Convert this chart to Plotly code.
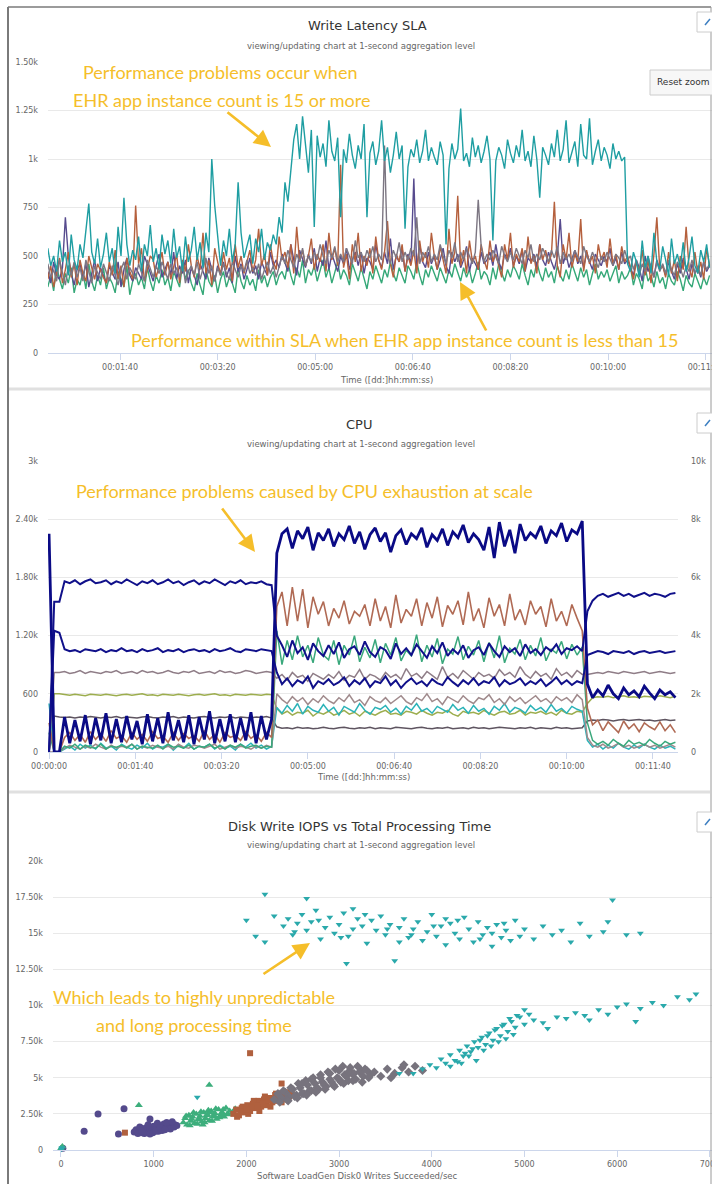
import plotly.graph_objects as go

W, H = 712, 1184
def px(x): return x / W
def py(y): return 1 - y / H

# ---------------- Panel 1: Write Latency SLA ----------------
lat_t = list(range(26, 705, 3))  # seconds, 227 samples
lat_teal = [540, 450, 500, 420, 580, 470, 520, 400, 610, 480,
            430, 560, 490, 640, 770, 520, 460, 590, 440, 510,
            620, 470, 540, 410, 650, 500, 800, 560, 450, 530,
            480, 600, 420, 560, 500, 660, 470, 540, 430, 610,
            510, 580, 460, 640, 490, 550, 420, 600, 470, 530,
            650, 480, 570, 440, 620, 520, 1000, 760, 600, 450,
            580, 500, 640, 470, 560, 880, 620, 490, 550, 610,
            460, 590, 520, 640, 480, 570, 530, 610, 560,
            700, 620, 880, 780,
            950, 1100, 1180, 1000, 1220, 1060, 930, 1150, 650, 1120,
            1010, 1080, 960, 1200, 1040, 990, 1110, 700, 1050, 980,
            1130, 1020, 950, 1070, 1000, 1180, 700, 1030, 1090, 970,
            1040, 1200, 990, 1060, 930, 1020, 1140, 1000, 1070, 640,
            960, 1050, 1010, 1100, 980, 1040, 1150, 990, 1060, 1010,
            970, 1090, 1020, 560, 950, 1080, 1000, 1050, 1260, 990,
            1030, 960, 1110, 1010, 1070, 980, 1040, 1120, 1000, 580,
            990, 1060, 1020, 950, 1100, 1030, 980, 1070, 1010, 1150,
            990, 1040, 960, 1120, 1000, 800, 1060, 1020, 970, 1080,
            1010, 1150, 990, 1050, 1200, 980, 1030, 1090, 960, 1180,
            1020, 1000, 1210, 970, 1040, 1100, 990, 1060, 1020, 950,
            1080, 1000, 1040, 990, 1010,
            460, 420, 520, 470, 390, 580, 440, 500, 410, 620,
            470, 430, 550, 480, 400, 590, 460, 510, 440, 570,
            420, 490, 600, 450, 410, 530, 470, 560, 440]
lat_orange = [380, 450, 340, 420, 490, 360, 430, 520, 390, 460,
              350, 480, 410, 370, 500, 440, 380, 460, 420, 390,
              360, 470, 400, 530, 380, 450, 340, 490, 420, 380,
              760, 460, 540, 370, 430, 500, 480, 390, 450, 520,
              400, 470, 380, 440, 510, 360, 480, 420, 560, 450,
              390, 500, 430, 620, 410, 480, 350, 540, 460, 400,
              520, 430, 490, 370, 560, 440, 500, 410, 470, 530,
              420, 480, 640, 450, 510, 400, 560, 470, 430, 600,
              480, 520, 440, 560, 410, 650, 470, 530, 450, 500,
              590, 430, 510, 470, 560, 420, 620, 480, 540, 450,
              970, 440, 510, 380, 560, 470, 620, 420, 500, 450,
              540, 410, 600, 480, 430, 520, 680, 460, 390, 510,
              470, 560, 420, 500, 450, 530, 410, 580, 470, 520,
              440, 620, 500, 430, 550, 480, 410, 640, 460, 520,
              810, 450, 530, 410, 580, 470, 500, 430, 560, 480,
              430, 580, 470, 510, 450, 390, 560, 480, 620, 440,
              510, 470, 540, 420, 600, 460, 500, 410, 560, 480,
              530, 460, 510, 780, 450, 390, 560, 480, 620, 440,
              510, 470, 690, 420, 530, 460, 500, 410, 560, 480,
              520, 440, 590, 460, 510, 430, 550, 470, 500, 440,
              380, 470, 420, 530, 400, 480, 360, 510, 700, 430,
              450, 390, 520, 410, 480, 370, 500, 430, 650, 440,
              390, 520, 410, 470, 380, 540, 450]
lat_purple = [420, 360, 470, 400, 380, 440, 700, 500, 410, 350,
              430, 460, 390, 460, 340, 420, 480, 370, 440, 400,
              360, 450, 410, 380, 470, 340, 430, 490, 400, 370,
              440, 410, 380, 500, 460, 420, 370, 450, 510, 390,
              430, 470, 400, 520, 380, 450, 410, 480, 360, 440,
              400, 350, 460, 420, 380, 490, 430, 370, 450, 410,
              470, 390, 440, 360, 500, 420, 460, 380, 430, 490,
              410, 450, 380, 470, 430, 400, 520, 450, 480, 440,
              510, 460, 420, 560, 470, 400, 530, 480, 440, 510,
              460, 540, 420, 490, 450, 580, 430, 510, 470, 420,
              500, 460, 540, 430, 480, 520, 450, 520, 410, 490,
              470, 430, 560, 480, 440, 520, 460, 590, 430, 500,
              470, 540, 420, 510, 460, 900, 430, 560, 470, 440,
              520, 460, 500, 430, 480, 540, 450, 410, 520, 470,
              510, 440, 480, 550, 420, 490, 460, 430, 520, 460,
              480, 520, 450, 560, 470, 430, 510, 480, 540, 450,
              500, 460, 530, 420, 490, 470, 510, 440, 560, 480,
              450, 520, 470, 430, 500, 690, 460, 510, 440, 480,
              530, 460, 500, 440, 520, 470, 430, 510, 480, 450,
              500, 470, 540, 450, 490, 430, 520, 460, 480, 440,
              400, 480, 440, 370, 500, 420, 460, 390, 480, 430,
              450, 400, 470, 420, 380, 460, 410, 490, 430, 380,
              460, 410, 440, 390, 470, 420, 450]
lat_green = [340, 400, 320, 450, 380, 330, 410, 360, 440, 310,
             380, 350, 420, 330, 460, 370, 320, 400, 350, 440,
             330, 390, 360, 310, 420, 380, 340, 450, 300, 370,
             410, 350, 390, 330, 440, 370, 320, 400, 360, 430,
             350, 390, 320, 420, 380, 340, 460, 380, 430, 360,
             320, 410, 350, 300, 430, 370, 340, 400, 310, 380,
             420, 340, 390, 360, 310, 440, 370, 330, 400, 350,
             380, 320, 430, 360, 400, 340, 390, 420, 350, 400,
             420, 380, 470, 400, 350, 440, 390, 480, 360, 430,
             400, 450, 370, 420, 480, 390, 440, 360, 410, 470,
             380, 430, 400, 350, 460, 410, 370, 440, 390, 330,
             420, 380, 450, 400, 360, 430, 390, 470, 410, 370,
             440, 400, 360, 450, 420, 380, 470, 400, 350, 430,
             390, 450, 410, 370, 440, 400, 360, 430, 390, 460,
             410, 370, 440, 390, 430, 360, 410, 470, 380, 420,
             400, 350, 440, 380, 460, 410, 370, 430, 390, 450,
             420, 380, 460, 400, 350, 430, 390, 470, 410, 370,
             440, 390, 420, 360, 450, 400, 370, 430, 380, 460,
             410, 370, 440, 390, 430, 350, 410, 460, 380, 420,
             390, 430, 370, 410, 450, 360, 420, 380, 400, 440,
             350, 410, 380, 330, 440, 370, 400, 340, 420, 360,
             390, 330, 410, 370, 350, 420, 380, 320, 400, 360,
             340, 410, 370, 330, 390, 350, 400]
lat_gray = [460, 390, 430, 370, 480, 410, 350, 450, 400, 470,
            390, 440, 370, 480, 420, 360, 450, 410, 380, 460,
            420, 370, 450, 400, 350, 430, 470, 380, 440, 410,
            380, 460, 420, 370, 480, 430, 390, 450, 410, 470,
            430, 380, 460, 410, 440, 390, 470, 360, 420, 450,
            400, 470, 380, 430, 490, 410, 450, 370, 440, 400,
            460, 410, 380, 470, 430, 390, 450, 420, 480, 410,
            440, 400, 460, 380, 430, 470, 410, 450, 390, 440,
            500, 460, 530, 480, 440, 510, 470, 540, 450, 500,
            470, 520, 480, 560, 500, 460, 530, 490, 550, 470,
            510, 470, 540, 500, 460, 580, 490, 520, 470, 530,
            490, 550, 470, 510, 480, 1070, 500, 460, 530, 490,
            570, 470, 520, 480, 540, 500, 700, 460, 520, 490,
            550, 470, 510, 480, 560, 500, 460, 530, 490, 570,
            470, 520, 480, 540, 500, 460, 520, 790, 550, 470,
            510, 480, 530, 490, 460, 550, 500, 470, 520, 480,
            540, 500, 460, 530, 490, 560, 470, 510, 480, 540,
            500, 470, 530, 490, 550, 460, 520, 480, 510, 470,
            530, 490, 460, 550, 500, 470, 520, 480, 440, 500,
            470, 520, 480, 450, 510, 490, 460, 530, 480, 500,
            430, 480, 400, 460, 420, 500, 440, 390, 470, 420,
            460, 410, 480, 430, 400, 470, 440, 390, 450, 420,
            480, 410, 450, 400, 470, 430, 460]
lat_ytick_vals = [0, 250, 500, 750, 1000, 1250, 1500]
lat_ytick_text = ["0", "250", "500", "750", "1k", "1.25k", "1.50k"]

time_tick_vals = [0, 100, 200, 300, 400, 500, 600, 700]
time_tick_text = ["00:00:00", "00:01:40", "00:03:20", "00:05:00",
                  "00:06:40", "00:08:20", "00:10:00", "00:11:40"]

# ---------------- Panel 2: CPU ----------------
cpu_t = list(range(0, 727, 6))  # seconds
cpu_navy1 = [2250, 0, 0, 360, 90, 330, 110, 380, 80, 350,
             120, 400, 90, 340, 100, 370, 130, 320, 80, 390,
             110, 350, 90, 410, 120, 330, 100, 380, 80, 360,
             130, 420, 90, 340, 110, 390, 100, 350, 120, 410,
             90, 370, 130, 340,
             2050, 2250, 2300, 2100, 2280, 2200, 2320, 2080, 2260, 2180,
             2300, 2120, 2250, 2190, 2330, 2150, 2270, 2090, 2240, 2310,
             2170, 2260, 2060, 2230, 2290, 2140, 2250, 2200, 2310, 2110,
             2240, 2180, 2300, 2130, 2270, 2210, 2340, 2160, 2250, 2190,
             2080, 2320, 2000, 2370, 2120, 2290, 2050, 2350, 2180, 2260,
             2210, 2330, 2150, 2280, 2230, 2360, 2170, 2290, 2250, 2380,
             700, 560, 640, 580, 690, 600, 550, 660, 590, 630,
             570, 680, 610, 550, 640, 590, 620, 560]
cpu_navy2 = [0, 1550, 1550, 1760, 1740, 1770, 1730, 1760, 1780, 1740,
             1750, 1770, 1730, 1760, 1740, 1780, 1750, 1720, 1760, 1740,
             1770, 1730, 1750, 1780, 1740, 1760, 1720, 1750, 1770, 1730,
             1760, 1740, 1780, 1750, 1720, 1760, 1740, 1770, 1730, 1750,
             1740, 1760, 1730, 1720,
             1200, 1100, 980, 1150, 1020, 1080, 950, 1120, 1040, 990,
             1100, 1010, 1130, 970, 1060, 1090, 1000, 1140, 1030, 980,
             1080, 1050, 960, 1120, 1010, 1070, 1000, 1110, 1040, 970,
             1090, 1020, 1130, 990, 1060, 1010, 1100, 970, 1050, 1080,
             1000, 1120, 1040, 980, 1090, 1030, 1070, 990, 1110, 1020,
             1060, 1000, 1080, 1040, 1110, 1010, 1070, 1050, 1090, 1040,
             1450, 1560, 1610, 1630, 1600, 1620, 1640, 1610, 1630, 1600,
             1620, 1640, 1610, 1630, 1620, 1600, 1630, 1640]
cpu_navy3 = [0, 1250, 1230, 1060, 1040, 1050, 1030, 1060, 1050, 1040,
             1060, 1030, 1050, 1040, 1070, 1040, 1050, 1030, 1060, 1040,
             1050, 1070, 1030, 1050, 1040, 1060, 1030, 1050, 1060, 1040,
             1050, 1030, 1060, 1040, 1050, 1070, 1040, 1030, 1060, 1050,
             1040, 1060, 1050, 1040,
             820, 700, 760, 680, 740, 710, 780, 660, 730, 700,
             750, 690, 720, 770, 680, 740, 700, 760, 670, 730,
             710, 780, 690, 740, 660, 720, 760, 700, 730, 680,
             750, 710, 690, 770, 720, 680, 740, 700, 760, 690,
             730, 710, 770, 680, 740, 700, 720, 760, 690, 730,
             700, 750, 680, 720, 770, 700, 740, 690, 730, 710,
             1000, 1020, 1040, 1030, 1010, 1040, 1030, 1020, 1040, 1010,
             1030, 1040, 1020, 1030, 1040, 1020, 1030, 1040]
cpu_brown = [300, 0, 0, 150, 200, 120, 180, 100, 210, 130,
             190, 110, 220, 140, 170, 100, 200, 130, 180, 110,
             210, 140, 160, 100, 200, 120, 190, 140, 170, 110,
             220, 130, 180, 100, 200, 150, 170, 120, 210, 140,
             180, 110, 200, 150,
             1500, 1650, 1300, 1700, 1350, 1680, 1280, 1600, 1420, 1550,
             1300, 1480, 1380, 1560, 1320, 1450, 1400, 1520, 1300, 1580,
             1350, 1500, 1280, 1620, 1330, 1470, 1400, 1580, 1300, 1540,
             1380, 1600, 1290, 1510, 1420, 1560, 1310, 1650, 1350, 1480,
             1280, 1590, 1400, 1520, 1300, 1630, 1360, 1470, 1310, 1560,
             1420, 1500, 1290, 1580, 1350, 1450, 1300, 1520, 1380, 1250,
             450, 280, 330, 220, 310, 250, 200, 320, 240, 290,
             210, 300, 260, 230, 310, 220, 280, 200]
cpu_green = [200, 0, 0, 60, 40, 80, 30, 70, 50, 40,
             80, 30, 60, 50, 70, 40, 80, 30, 60, 50,
             40, 70, 30, 80, 50, 60, 40, 70, 30, 60,
             50, 80, 40, 60, 30, 70, 50, 80, 40, 60,
             70, 40, 60, 50,
             1250, 900, 1150, 950, 1200, 980, 1100, 920, 1180, 1000,
             950, 1150, 900, 1100, 1000, 1200, 930, 1080, 970, 1160,
             920, 1120, 1000, 1180, 940, 1050, 990, 1210, 930, 1100,
             980, 1170, 910, 1060, 1010, 1190, 950, 1090, 1000, 1150,
             930, 1130, 970, 1200, 920, 1070, 1010, 1160, 950, 1100,
             990, 1180, 940, 1060, 1020, 1140, 960, 1110, 1000, 1080,
             300, 120, 80, 110, 70, 130, 90, 60, 120, 80,
             100, 70, 130, 90, 60, 110, 80, 100]
cpu_teal = [500, 0, 0, 30, 60, 20, 80, 40, 70, 30,
            90, 40, 60, 20, 80, 50, 30, 70, 40, 90,
            30, 60, 50, 80, 20, 70, 40, 90, 30, 60,
            50, 80, 30, 70, 40, 60, 20, 80, 50, 90,
            40, 70, 30, 60,
            460, 400, 480, 420, 500, 390, 470, 430, 410, 490,
            420, 460, 380, 470, 440, 410, 500, 430, 390, 460,
            440, 480, 410, 450, 390, 470, 430, 500, 420, 450,
            400, 470, 440, 410, 490, 430, 460, 400, 480, 420,
            450, 390, 470, 430, 500, 410, 460, 440, 400, 480,
            430, 460, 410, 490, 420, 450, 400, 470, 440, 420,
            120, 50, 80, 30, 70, 40, 90, 50, 30, 70,
            40, 80, 50, 30, 70, 40, 60, 30]
cpu_mauve1 = [0, 820, 820, 830, 810, 820, 840, 810, 830, 820,
              810, 830, 820, 840, 810, 820, 830, 810, 840, 820,
              830, 810, 820, 840, 820, 810, 830, 820, 840, 810,
              820, 830, 810, 840, 820, 830, 810, 820, 840, 830,
              810, 820, 830, 820,
              760, 800, 740, 820, 770, 790, 730, 810, 780, 750,
              800, 760, 830, 740, 790, 770, 850, 750, 800, 780,
              740, 820, 770, 800, 750, 860, 780, 810, 760, 830,
              790, 750, 880, 770, 810, 760, 840, 790, 750, 820,
              780, 800, 760, 850, 790, 820, 770, 880, 800, 760,
              830, 780, 810, 750, 860, 790, 820, 770, 840, 800,
              800, 810, 820, 810, 830, 820, 810, 830, 820, 810,
              820, 830, 810, 820, 830, 820, 810, 820]
cpu_mauve2 = [0, 0, 0, 40, 70, 50, 30, 60, 40, 80,
              50, 30, 70, 40, 60, 50, 80, 30, 60, 40,
              70, 50, 40, 60, 30, 80, 50, 40, 70, 60,
              40, 60, 80, 30, 50, 70, 40, 60, 50, 30,
              60, 40, 70, 50,
              600, 540, 500, 570, 520, 560, 490, 550, 510, 580,
              530, 500, 560, 520, 590, 510, 540, 480, 570, 530,
              510, 560, 500, 540, 580, 520, 490, 560, 530, 600,
              520, 550, 490, 570, 540, 510, 580, 530, 500, 560,
              540, 590, 510, 550, 490, 570, 520, 560, 500, 540,
              580, 520, 550, 500, 570, 530, 560, 510, 590, 540,
              150, 70, 50, 80, 40, 60, 90, 50, 70, 40,
              60, 80, 50, 70, 40, 60, 80, 50]
cpu_olive = [0, 600, 600, 590, 585, 595, 590, 580, 595, 590,
             585, 595, 590, 580, 590, 595, 585, 590, 600, 585,
             590, 580, 595, 590, 585, 595, 590, 580, 590, 595,
             585, 590, 600, 585, 590, 580, 595, 590, 585, 595,
             590, 585, 595, 590,
             450, 390, 420, 380, 410, 400, 430, 370, 410, 390,
             420, 380, 400, 430, 390, 410, 370, 420, 400, 380,
             410, 430, 390, 400, 380, 420, 410, 390, 430, 400,
             380, 410, 400, 430, 390, 370, 420, 400, 410, 390,
             430, 400, 380, 410, 420, 390, 400, 430, 380, 410,
             400, 420, 390, 410, 380, 430, 400, 390, 420, 410,
             500, 560, 570, 565, 575, 560, 570, 580, 565, 570,
             560, 575, 570, 565, 580, 570, 560, 575]
cpu_dark = [0, 370, 360, 355, 360, 350, 360, 355, 365, 355,
            350, 360, 355, 365, 350, 360, 355, 350, 360, 365,
            355, 350, 360, 355, 365, 350, 360, 355, 350, 360,
            365, 355, 350, 360, 355, 365, 350, 360, 355, 350,
            360, 355, 365, 350,
            260, 245, 250, 240, 255, 245, 250, 240, 245, 255,
            245, 240, 250, 255, 245, 240, 250, 245, 255, 240,
            250, 245, 240, 255, 250, 245, 240, 250, 255, 245,
            240, 250, 245, 255, 240, 245, 250, 240, 255, 245,
            250, 240, 245, 255, 250, 245, 240, 250, 245, 255,
            240, 250, 245, 240, 255, 245, 250, 240, 245, 250,
            320, 330, 325, 335, 330, 320, 330, 335, 325, 330,
            335, 325, 330, 320, 330, 335, 325, 330]
cpu_left_vals = [0, 600, 1200, 1800, 2400, 3000]
cpu_left_text = ["0", "600", "1.20k", "1.80k", "2.40k", "3k"]
cpu_right_vals = [0, 2000, 4000, 6000, 8000, 10000]
cpu_right_text = ["0", "2k", "4k", "6k", "8k", "10k"]

# ---------------- Panel 3: Disk Write IOPS vs Total Processing Time ----------------
sc_purple = [(790, 1250), (810, 1400), (830, 1150), (850, 1350), (870, 1500), (880, 1200),
             (900, 1450), (910, 1300), (930, 1600), (950, 1250), (960, 1500), (980, 1350),
             (1000, 1650), (1010, 1400), (1030, 1550), (1050, 1300), (1060, 1700), (1080, 1450),
             (1100, 1600), (1110, 1800), (1130, 1500), (1150, 1700), (1170, 1550), (1190, 1850),
             (1210, 1650), (1230, 1750), (1250, 1700), (850, 1600), (900, 1150), (940, 1750),
             (990, 1200), (1040, 1850), (1090, 1350), (1140, 1900), (1180, 1450), (1220, 1600),
             (870, 1300), (960, 1100), (1020, 1300), (1070, 1550), (1120, 1400), (1200, 1950),
             (250, 1300), (400, 2500), (620, 1100), (680, 2850), (960, 2150), (20, 120)]
sc_green = [(1320, 1900), (1340, 2200), (1360, 1750), (1380, 2400), (1400, 2000), (1420, 2300),
            (1440, 1850), (1460, 2500), (1480, 2100), (1500, 2350), (1520, 1950), (1540, 2600),
            (1560, 2200), (1580, 2450), (1600, 2050), (1620, 2700), (1640, 2300), (1660, 2550),
            (1680, 2150), (1700, 2800), (1720, 2400), (1740, 2600), (1760, 2300), (1780, 2900),
            (1800, 2500), (1820, 2700), (1850, 2600), (1880, 2850), (1350, 2350), (1390, 1700),
            (1430, 2600), (1470, 1800), (1510, 2650), (1550, 1900), (1590, 2750), (1630, 2000),
            (1670, 2850), (1710, 2250), (1750, 2800), (1790, 2450), (1410, 2150), (1490, 2200),
            (1570, 2400), (1650, 2400), (1730, 2550), (1530, 1750), (1610, 2600),
            (840, 3100), (1600, 4500), (15, 250), (0, 100)]
sc_brown = [(1860, 2500), (1890, 2800), (1920, 2400), (1950, 2900), (1980, 2600), (2010, 3100),
            (2040, 2700), (2070, 3200), (2100, 2900), (2130, 3400), (2160, 3000), (2190, 3500),
            (2220, 3100), (2250, 3600), (2280, 3300), (2310, 3800), (2340, 3400), (2370, 3900),
            (2400, 3600), (2430, 4000), (2460, 3700), (2490, 4100), (1900, 2300), (1960, 3000),
            (2020, 2500), (2080, 3400), (2140, 2700), (2200, 3700), (2260, 3000), (2320, 3900),
            (2380, 3300), (2440, 3500), (1940, 2650), (2060, 2950), (2180, 3250), (2300, 3550),
            (2420, 3850), (2000, 2800), (2120, 3100), (2240, 3450), (2360, 3650), (2480, 3900),
            (690, 1200), (2040, 6700), (2380, 4600)]
sc_gray = [(2300, 3500), (2340, 3900), (2380, 3600), (2420, 4000), (2460, 3700), (2500, 4200),
           (2540, 3800), (2580, 4300), (2620, 3900), (2660, 4500), (2700, 4100), (2740, 4600),
           (2780, 4200), (2820, 4700), (2860, 4400), (2900, 4900), (2940, 4500), (2980, 5000),
           (3020, 4700), (3060, 5200), (3100, 4800), (3140, 5300), (3180, 4900), (3220, 5400),
           (3260, 5100), (3300, 5500), (3340, 5200), (3380, 5400),
           (2360, 3300), (2440, 3500), (2520, 3700), (2600, 3900), (2680, 4100), (2760, 4300),
           (2840, 4500), (2920, 4700), (3000, 4900), (3080, 5100), (3160, 5300), (3240, 5500),
           (3320, 5000),
           (2400, 4100), (2480, 4300), (2560, 4600), (2640, 4800), (2720, 5000), (2800, 5200),
           (2880, 5400), (2960, 5600), (3040, 5800), (3120, 5700), (3200, 5800), (3280, 5600),
           (2450, 3400), (2550, 3600), (2650, 3800), (2750, 4000), (2850, 4200), (2950, 4400),
           (3050, 4600), (3150, 4800), (3250, 4700),
           (2600, 4600), (2700, 4900), (2800, 5000), (2900, 5300), (3000, 5500), (3100, 5400),
           (3450, 5100), (3520, 5600), (3600, 5300), (3680, 5700), (3750, 5400), (3820, 5800),
           (3900, 5500), (3560, 5000), (3700, 5900)]
sc_teal_low = [(3800, 5300), (3900, 5600), (3980, 5900), (4050, 5700), (4100, 6300), (4150, 6000),
               (4200, 6600), (4250, 6200), (4300, 6900), (4340, 6500), (4380, 7200), (4420, 6800),
               (4460, 7500), (4500, 7100), (4540, 7800), (4580, 7300), (4620, 8100), (4660, 7600),
               (4700, 8400), (4740, 7900), (4780, 8700), (4820, 8200), (4860, 8900), (4900, 8500),
               (4950, 9200), (5000, 8700), (5050, 9400), (5100, 9000),
               (4200, 5800), (4280, 6100), (4360, 6700), (4440, 7000), (4520, 7600), (4600, 7900),
               (4680, 8300), (4760, 8600), (4840, 9100), (4920, 9300), (5000, 9700),
               (4320, 6000), (4400, 6500), (4480, 6200), (4560, 6900), (4640, 7200), (4720, 7500),
               (4800, 7700), (4880, 8000),
               (5200, 8800), (5350, 9200), (5450, 9100), (5550, 9500), (5650, 9300), (5800, 9700),
               (5900, 9400), (6000, 9900), (6100, 10100), (6250, 9800), (6380, 10200), (6500, 10000),
               (6650, 10600), (6780, 10400), (6850, 10800), (5250, 8400), (5700, 9000), (6200, 8900),
               (1470, 3650), (3650, 5300), (10, 150), (5, 50)]
sc_teal_high = [(2000, 15900), (2100, 14800), (2200, 17700), (2300, 16200),
                (2400, 15500), (2450, 16000), (2500, 14900), (2550, 15700), (2600, 16300), (2650, 15200),
                (2700, 15800), (2750, 16600), (2800, 14600), (2850, 15400),
                (2900, 16100), (2950, 15000), (3000, 15600), (3050, 16400), (3100, 14800), (3150, 15300),
                (3200, 16000), (3250, 15500), (3300, 14300), (3350, 15900),
                (3400, 15200), (3450, 16200), (3500, 14900), (3550, 15600), (3600, 13100), (3650, 15400),
                (3700, 16000), (3750, 14700), (3800, 15300), (3850, 15800),
                (3900, 14500), (3950, 15100), (4000, 16300), (4050, 14800), (4100, 15500), (4150, 14200),
                (4200, 15700), (4250, 15000), (4300, 14600), (4350, 16100),
                (4400, 15300), (4450, 14400), (4500, 15800), (4550, 14900), (4600, 15400), (4650, 14100),
                (4700, 15600), (4750, 14700), (4800, 15200), (4850, 14500),
                (4900, 15900), (4950, 14800), (5000, 15300), (5100, 14600), (5200, 15500), (5300, 14900),
                (5400, 15200), (5500, 14400), (5600, 15700), (5700, 14800),
                (5850, 15100), (5950, 17300), (6100, 14900), (6250, 15000),
                (2520, 15100), (2780, 15900), (3020, 14700), (3280, 16300), (3520, 15300), (3780, 14900),
                (4020, 15500), (4280, 15900), (4520, 14600), (4780, 15700), (3150, 16700), (3650, 14400),
                (4150, 16000), (4650, 15000), (2200, 14400), (2650, 17400), (5900, 15800), (3080, 12900)]
sc_x_vals = [0, 1000, 2000, 3000, 4000, 5000, 6000, 7000]
sc_x_text = ["0", "1000", "2000", "3000", "4000", "5000", "6000", "7000"]
sc_y_vals = [0, 2500, 5000, 7500, 10000, 12500, 15000, 17500, 20000]
sc_y_text = ["0", "2.50k", "5k", "7.50k", "10k", "12.50k", "15k", "17.50k", "20k"]

# ---------------- Styles ----------------
TICKFONT = dict(family="DejaVu Sans", size=8, color="#666666")
AXIS_LINE = "#ccd6eb"
GRID = "#e9e9e9"
YELLOW = "#F5BE2A"
ANNOT_FONT = dict(family="Lato", size=18, color=YELLOW)

fig = go.Figure()

def line(x, y, color, width, xa, ya):
    n = min(len(x), len(y))
    fig.add_trace(go.Scatter(x=x[:n], y=y[:n], mode="lines",
                             line=dict(color=color, width=width),
                             xaxis=xa, yaxis=ya, hoverinfo="skip"))

# Panel 1 traces
for vals, col in [(lat_green, "#35a878"), (lat_purple, "#574b8e"), (lat_orange, "#b5603d"),
                  (lat_gray, "#7c7682"), (lat_teal, "#1f9ea2")]:
    line(lat_t, vals, col, 1.4, "x", "y")

# Panel 2 traces
for vals, col, wd in [(cpu_dark, "#5e5460", 1.5), (cpu_olive, "#9cad4e", 1.5),
                      (cpu_teal, "#2bb3b8", 1.5), (cpu_mauve2, "#a08a8c", 1.5),
                      (cpu_green, "#3aa87c", 1.5), (cpu_mauve1, "#8f7d87", 1.5),
                      (cpu_brown, "#b06a54", 1.6), (cpu_navy3, "#10108a", 2.0),
                      (cpu_navy2, "#10108a", 2.0), (cpu_navy1, "#0a0a85", 2.8)]:
    line(cpu_t, vals, col, wd, "x2", "y2")
# right-hand axis carrier (no visible marks)
fig.add_trace(go.Scatter(x=[None], y=[None], mode="markers", xaxis="x2", yaxis="y3",
                         hoverinfo="skip", showlegend=False))

# Panel 3 traces
for pts, col, sym, sz in [(sc_purple, "#544a8c", "circle", 7), (sc_green, "#3dae7c", "triangle-up", 7),
                          (sc_brown, "#b0603e", "square", 6), (sc_gray, "#77737d", "diamond", 7),
                          (sc_teal_low, "#2aa9ab", "triangle-down", 6),
                          (sc_teal_high, "#2aa9ab", "triangle-down", 6)]:
    xs = [p[0] for p in pts]
    ys = [p[1] for p in pts]
    fig.add_trace(go.Scatter(x=xs, y=ys, mode="markers", xaxis="x3", yaxis="y4",
                             marker=dict(color=col, size=sz, symbol=sym, line=dict(width=0)),
                             cliponaxis=False, hoverinfo="skip"))

xcommon = dict(showgrid=False, showline=True, linecolor=AXIS_LINE, linewidth=1,
               ticks="outside", ticklen=6, tickcolor=AXIS_LINE, tickfont=TICKFONT,
               zeroline=False, automargin=False, ticklabeloverflow="allow")
ycommon = dict(showgrid=True, gridcolor=GRID, gridwidth=1, zeroline=False, showline=False,
               tickfont=TICKFONT, ticks="", ticklabelstandoff=9, automargin=False)

fig.update_layout(
    width=W, height=H, margin=dict(l=0, r=0, t=0, b=0, autoexpand=False),
    paper_bgcolor="white", plot_bgcolor="white", showlegend=False,
    xaxis=dict(domain=[px(48), 1], range=[26.2, 706.5], anchor="y",
               tickvals=time_tick_vals[1:], ticktext=time_tick_text[1:], **xcommon),
    yaxis=dict(domain=[py(353), py(62)], range=[0, 1500], anchor="x",
               tickvals=lat_ytick_vals, ticktext=lat_ytick_text, **ycommon),
    xaxis2=dict(domain=[px(48), px(678)], range=[-1.2, 729], anchor="y2",
                tickvals=time_tick_vals, ticktext=time_tick_text, **xcommon),
    yaxis2=dict(domain=[py(752), py(461)], range=[0, 3000], anchor="x2",
                tickvals=cpu_left_vals, ticktext=cpu_left_text, **ycommon),
    yaxis3=dict(overlaying="y2", side="right", range=[0, 10000], anchor="x2",
                tickvals=cpu_right_vals, ticktext=cpu_right_text, showgrid=False,
                zeroline=False, showline=False, tickfont=TICKFONT, ticklabelstandoff=12,
                automargin=False),
    xaxis3=dict(domain=[px(53), 1], range=[-86, 7023], anchor="y4",
                tickvals=sc_x_vals, ticktext=sc_x_text, **xcommon),
    yaxis4=dict(domain=[py(1150), py(861)], range=[0, 20000], anchor="x3",
                tickvals=sc_y_vals, ticktext=sc_y_text, **ycommon),
)

ann = []
def text(x, y, s, size, color, family="DejaVu Sans", xanchor="center"):
    ann.append(dict(x=px(x), y=py(y), xref="paper", yref="paper", text=s, showarrow=False,
                    xanchor=xanchor, yanchor="middle",
                    font=dict(family=family, size=size, color=color)))

def arrow(hx, hy, tx, ty):
    ann.append(dict(x=px(hx), y=py(hy), xref="paper", yref="paper", text="",
                    showarrow=True, ax=tx - hx, ay=ty - hy, arrowcolor=YELLOW,
                    arrowwidth=2.6, arrowhead=2, arrowsize=1.3))

sub = "viewing/updating chart at 1-second aggregation level"
# titles
text(367, 25, "Write Latency SLA", 13, "#333333")
text(361, 46, sub, 8.5, "#666666")
text(359, 424, "CPU", 13, "#333333")
text(361, 444, sub, 8.5, "#666666")
text(359, 826, "Disk Write IOPS vs Total Processing Time", 13, "#333333")
text(361, 845, sub, 8.5, "#666666")
# axis titles
text(386, 380, "Time ([dd:]hh:mm:ss)", 8.5, "#666666")
text(363, 777, "Time ([dd:]hh:mm:ss)", 8.5, "#666666")
text(358, 1176, "Software LoadGen Disk0 Writes Succeeded/sec", 8.5, "#666666")
# reset zoom
text(655, 82, "Reset zoom", 9, "#333333", xanchor="left")

# callouts
for x, y, s in [(220, 72, "Performance problems occur when"),
                (221, 100, "EHR app instance count is 15 or more"),
                (404, 340, "Performance within SLA when EHR app instance count is less than 15"),
                (304, 491, "Performance problems caused by CPU exhaustion at scale"),
                (194, 997, "Which leads to highly unpredictable"),
                (194, 1025, "and long processing time")]:
    ann.append(dict(x=px(x), y=py(y), xref="paper", yref="paper", text=s, showarrow=False,
                    xanchor="center", yanchor="middle", font=ANNOT_FONT))
arrow(271, 147, 226, 111)
arrow(460, 282, 487, 332)
arrow(255, 552, 221, 507)
arrow(310, 943, 262, 975)
fig.update_layout(annotations=ann)

shapes = []
def rect(x0, y0, x1, y1, line_color, fill=None, width=1):
    shapes.append(dict(type="rect", xref="paper", yref="paper", x0=px(x0), x1=px(x1),
                       y0=py(y1), y1=py(y0), line=dict(color=line_color, width=width),
                       fillcolor=fill, layer="above"))
def seg(x0, y0, x1, y1, color, width):
    shapes.append(dict(type="line", xref="paper", yref="paper", x0=px(x0), x1=px(x1),
                       y0=py(y0), y1=py(y1), line=dict(color=color, width=width), layer="above"))

# outer frame and panel separators
seg(8, 7, 711, 7, "#7a7a7a", 1.5)
seg(8, 7, 8, 1184, "#7a7a7a", 2)
seg(711, 7, 711, 1184, "#9a9a9a", 1)
seg(9, 389, 710, 389, "#e0e0e0", 3)
seg(9, 792, 710, 792, "#e0e0e0", 3)
# export buttons
for top in (12, 413, 812):
    rect(697, top, 716, top + 20, "#cccccc", "white")
    seg(705, top + 13, 710, top + 7, "#3d7fc1", 1.5)
# reset zoom button
rect(650, 70, 716, 95, "#cccccc", "#f7f7f7")
fig.update_layout(shapes=shapes)

fig.write_html("out.html", config={"displayModeBar": False},
               post_script="document.body.style.margin='0';document.body.style.padding='0';"
                           "document.documentElement.style.overflow='hidden';")
